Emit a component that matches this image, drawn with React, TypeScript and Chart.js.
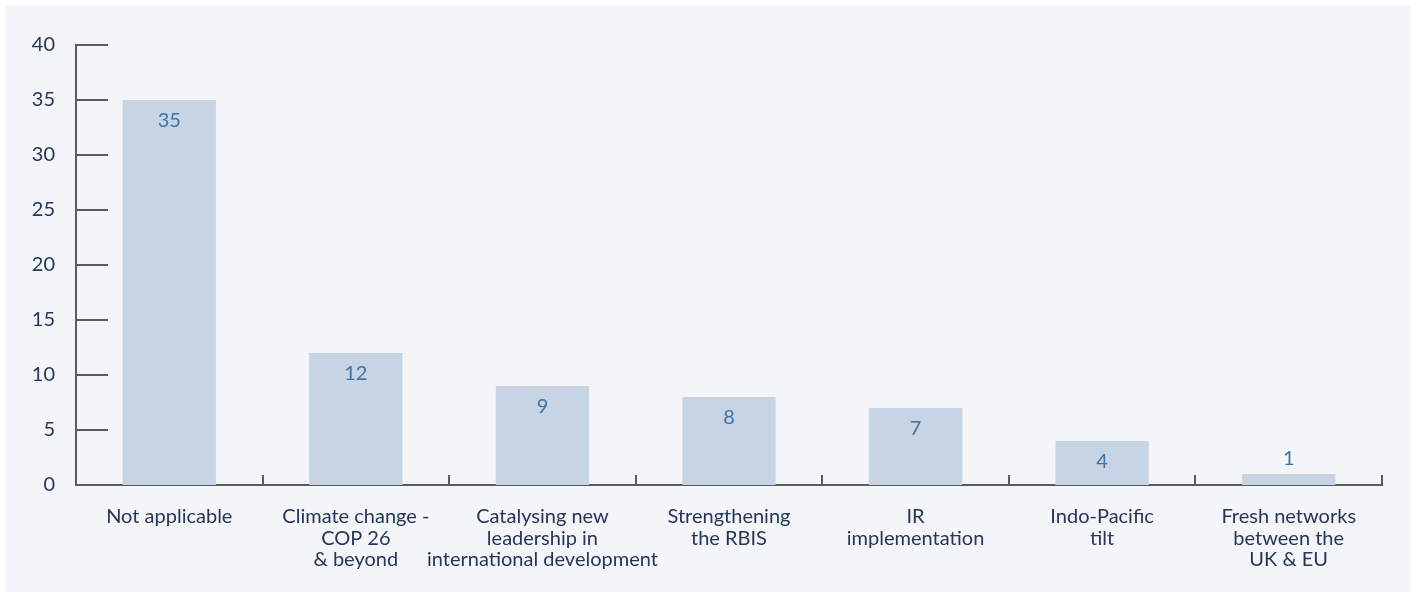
import React, { useEffect, useRef } from "react";
import { Chart, registerables } from "chart.js";

Chart.register(...registerables);

const categories: string[][] = [
  ["Not applicable"],
  ["Climate change -", "COP 26", "& beyond"],
  ["Catalysing new", "leadership in", "international development"],
  ["Strengthening", "the RBIS"],
  ["IR", "implementation"],
  ["Indo-Pacific", "tilt"],
  ["Fresh networks", "between the", "UK & EU"],
];
const values: number[] = [35, 12, 9, 8, 7, 4, 1];
const yTicks: number[] = [0, 5, 10, 15, 20, 25, 30, 35, 40];

const FONT = "Lato, 'Noto Sans', sans-serif";
const AXIS_COLOR = "#5b5b5b";
const TEXT_COLOR = "#24365a";
const VALUE_COLOR = "#3f74a3";
const BAR_COLOR = "#c7d4e3";

const customPlugin = {
  id: "customMarks",
  afterDatasetsDraw(chart: any) {
    const ctx = chart.ctx;
    const area = chart.chartArea;
    const x = chart.scales.x;
    const y = chart.scales.y;
    ctx.save();
    ctx.strokeStyle = AXIS_COLOR;
    ctx.lineWidth = 2;
    yTicks.forEach((v) => {
      const py = Math.round(y.getPixelForValue(v));
      ctx.beginPath();
      ctx.moveTo(area.left, py);
      ctx.lineTo(area.left + 32, py);
      ctx.stroke();
    });
    const n = categories.length;
    for (let i = 1; i <= n; i++) {
      let px: number;
      if (i === n) px = area.right;
      else px = (x.getPixelForValue(i - 1) + x.getPixelForValue(i)) / 2;
      px = Math.round(px);
      ctx.beginPath();
      ctx.moveTo(px, area.bottom);
      ctx.lineTo(px, area.bottom - 10);
      ctx.stroke();
    }
    const meta = chart.getDatasetMeta(0);
    ctx.fillStyle = VALUE_COLOR;
    ctx.font = `20px ${FONT}`;
    ctx.textAlign = "center";
    ctx.textBaseline = "middle";
    meta.data.forEach((bar: any, i: number) => {
      const h = bar.base - bar.y;
      const ty = h > 30 ? bar.y + 21 : bar.y - 15;
      ctx.fillText(String(values[i]), bar.x, ty);
    });
    ctx.restore();
  },
};

export default function App() {
  const ref = useRef<HTMLCanvasElement | null>(null);
  useEffect(() => {
    if (!ref.current) return;
    const chart = new Chart(ref.current, {
      type: "bar",
      data: {
        labels: categories,
        datasets: [
          {
            data: values,
            backgroundColor: BAR_COLOR,
            borderWidth: 0,
            categoryPercentage: 1,
            barPercentage: 0.5,
          },
        ],
      },
      options: {
        animation: false,
        responsive: true,
        maintainAspectRatio: false,
        layout: { padding: { left: 0, right: 29, top: 40, bottom: 0 } },
        plugins: {
          legend: { display: false },
          tooltip: { enabled: false },
        },
        scales: {
          x: {
            grid: { display: false, drawTicks: false },
            border: { display: true, color: AXIS_COLOR, width: 2 },
            ticks: {
              color: TEXT_COLOR,
              font: { family: FONT, size: 20, lineHeight: 1.08 },
              padding: 21,
              maxRotation: 0,
              autoSkip: false,
            },
            afterFit: (s: any) => {
              s.height = 107;
            },
          },
          y: {
            min: 0,
            max: 40,
            grid: { display: false, drawTicks: false },
            border: { display: true, color: AXIS_COLOR, width: 2 },
            ticks: {
              stepSize: 5,
              color: TEXT_COLOR,
              font: { family: FONT, size: 20 },
              padding: 21,
            },
            afterFit: (s: any) => {
              s.width = 71;
            },
          },
        },
      },
      plugins: [customPlugin],
    });
    return () => chart.destroy();
  }, []);

  return (
    <div
      style={{
        position: "absolute",
        left: 5,
        top: 5,
        width: 1406,
        height: 587,
        background: "#f4f5f9",
      }}
    >
      <canvas ref={ref} />
    </div>
  );
}
